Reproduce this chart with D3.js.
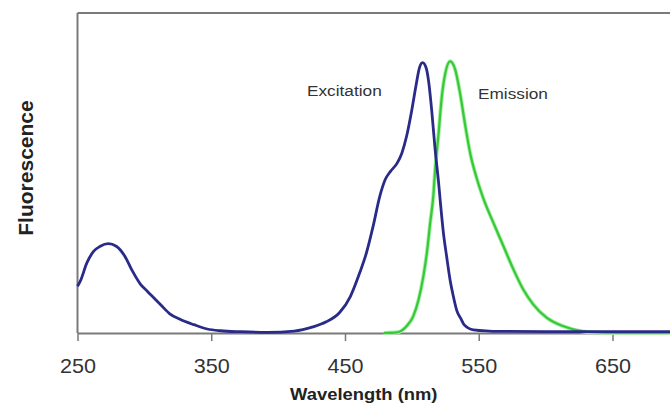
<!DOCTYPE html>
<html>
<head>
<meta charset="utf-8">
<script src="https://cdn.jsdelivr.net/npm/d3@7"></script>
<style>
  body { margin: 0; background: #fff; }
  text { font-family: "Liberation Sans", Arial, sans-serif; }
</style>
</head>
<body>
<div id="spectra"></div>
<script>
let margin = {top: 13, right: 0, bottom: 73, left: 77.5},
    width = 670 - margin.left - margin.right,
    height = 406 - margin.top - margin.bottom

// Values (wavelength in nm, relative fluorescence).
const excitationNm = [250, 252, 257, 262, 267, 273, 279, 285.5, 290.5, 297, 302, 307, 312, 319, 327, 337, 347, 357, 372, 392,
                      412, 426, 436, 446, 454, 461, 466, 471, 476, 480, 484, 489, 492.5, 496, 500, 503, 505.6, 508, 510.7, 512.7,
                      515, 517.4, 520, 521.5, 523.6, 526, 528.8, 531, 533.6, 537, 539, 546, 566, 600, 650, 693]
const excitationVal = [0.146, 0.161, 0.219, 0.255, 0.271, 0.279, 0.271, 0.239, 0.198, 0.153, 0.131, 0.110, 0.089, 0.060, 0.042, 0.026, 0.0125, 0.007, 0.004, 0.002,
                       0.006, 0.019, 0.035, 0.064, 0.114, 0.188, 0.25, 0.333, 0.427, 0.479, 0.505, 0.531, 0.562, 0.614, 0.698, 0.771, 0.828, 0.845, 0.828, 0.781,
                       0.688, 0.573, 0.469, 0.40, 0.312, 0.239, 0.160, 0.115, 0.070, 0.042, 0.026, 0.010, 0.005, 0.004, 0.004, 0.004]

const emissionNm = [479, 489, 496, 501, 505, 508.6, 511.2, 513.7, 516, 517.4, 520, 522.4, 525, 528.6, 532.4, 536, 540, 543.6,
                    548.6, 553.5, 561, 568.5, 576, 583.4, 591, 601, 613.4, 628, 643, 663, 693]
const emissionVal = [0, 0.002, 0.021, 0.052, 0.104, 0.177, 0.25, 0.344, 0.427, 0.51, 0.625, 0.739, 0.812, 0.849, 0.823, 0.75, 0.646, 0.562,
                     0.482, 0.420, 0.344, 0.271, 0.198, 0.135, 0.088, 0.047, 0.021, 0.005, 0.001, 0, 0]

const xTicks = [250, 350, 450, 550, 650]
const seriesLabels = ["Excitation", "Emission"]

let svg = d3.select("#spectra")
            .append('svg')
            .attr('width', width + margin.left + margin.right)
            .attr('height', height + margin.top + margin.bottom)
            .append("g")
            .attr('transform', "translate(" + margin.left + "," + margin.top + ")")

let x = d3.scaleLinear()
          .domain([250, 693])
          .range([0, width])

let y = d3.scaleLinear()
          .domain([0, 1])
          .range([height, 0])

// Frame: top and left only, the right side runs off the picture.
svg.append('line')
   .attr('x1', 0).attr('x2', width)
   .attr('y1', 0).attr('y2', 0)
   .attr('stroke', '#7a7a7a').attr('stroke-width', 2)
svg.append('line')
   .attr('x1', 0).attr('x2', 0)
   .attr('y1', 0).attr('y2', height)
   .attr('stroke', '#7a7a7a').attr('stroke-width', 2)

let xAxis = svg.append('g')
               .attr('transform', "translate(0," + height + ")")
               .call(d3.axisBottom(x).tickValues(xTicks).tickSize(8).tickSizeOuter(0).tickPadding(18))
xAxis.select('.domain').attr('stroke', '#7a7a7a').attr('stroke-width', 2)
xAxis.selectAll('line').attr('stroke', '#7a7a7a').attr('stroke-width', 1.5)
xAxis.selectAll('text')
     .attr('fill', '#333')
     .style('font-size', '20px')
     .attr('transform', "scale(1.08,1)")

let line = d3.line()
             .x(function(d) { return x(d[0]) })
             .y(function(d) { return y(d[1]) })
             .curve(d3.curveMonotoneX)

let emission = d3.zip(emissionNm, emissionVal)
let excitation = d3.zip(excitationNm, excitationVal)

svg.append('path')
   .datum(emission)
   .attr('d', line)
   .attr('fill', 'none')
   .attr('stroke', '#a8f0a8')
   .attr('stroke-width', 4)
svg.append('path')
   .datum(emission)
   .attr('d', line)
   .attr('fill', 'none')
   .attr('stroke', '#38c838')
   .attr('stroke-width', 2.2)

svg.append('path')
   .datum(excitation)
   .attr('d', line)
   .attr('fill', 'none')
   .attr('stroke', '#2a2a88')
   .attr('stroke-width', 2.8)

// Curve labels
svg.append('g')
   .attr('transform', "translate(" + (307 - margin.left) + "," + (96 - margin.top) + ") scale(1.15,1)")
   .append('text')
   .attr('fill', '#333')
   .style('font-size', '15px')
   .text(seriesLabels[0])
svg.append('g')
   .attr('transform', "translate(" + (478 - margin.left) + "," + (99 - margin.top) + ") scale(1.15,1)")
   .append('text')
   .attr('fill', '#333')
   .style('font-size', '15px')
   .text(seriesLabels[1])

// Axis titles
svg.append('g')
   .attr('transform', "translate(" + (width / 2 - 10) + "," + (height + 67) + ") scale(1.15,1)")
   .append('text')
   .attr('text-anchor', 'middle')
   .attr('fill', '#222')
   .style('font-size', '16px')
   .style('font-weight', 'bold')
   .text("Wavelength (nm)")

svg.append('text')
   .attr('transform', "translate(" + (33 - margin.left) + "," + (168 - margin.top) + ") rotate(-90)")
   .attr('text-anchor', 'middle')
   .attr('fill', '#222')
   .style('font-size', '21px')
   .style('font-weight', 'bold')
   .text("Fluorescence")
</script>
</body>
</html>
